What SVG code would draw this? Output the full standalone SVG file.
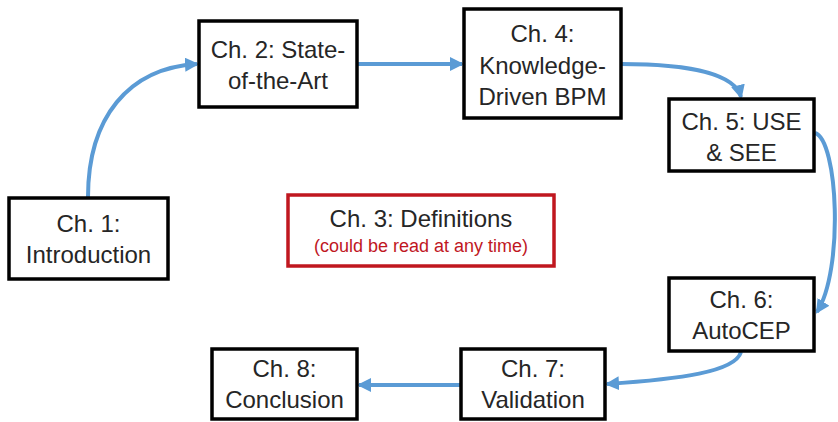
<svg xmlns="http://www.w3.org/2000/svg" width="838" height="422" viewBox="0 0 838 422">
  <style>
    .box { fill: #ffffff; stroke: #000000; stroke-width: 3.5; }
    .red { fill: #ffffff; stroke: #c0171f; stroke-width: 3.5; }
    .lbl { font-family: "Liberation Sans", Arial, sans-serif; font-size: 24px; fill: #262626; text-anchor: middle; }
    .note { font-family: "Liberation Sans", Arial, sans-serif; font-size: 18px; fill: #c0171f; text-anchor: middle; }
    .edge { fill: none; stroke: #5b9bd5; stroke-width: 4; marker-end: url(#head); }
  </style>
  <defs>
    <marker id="head" markerUnits="userSpaceOnUse" markerWidth="14" markerHeight="14" viewBox="0 0 14 14" refX="12" refY="7" orient="auto">
      <path d="M0,0 L14,7 L0,14 Z" fill="#5b9bd5"/>
    </marker>
  </defs>

  <g id="connectors">
    <path class="edge" d="M88,197 C88,118 128,68 197,64"/>
    <path class="edge" d="M357,64 L462,64"/>
    <path class="edge" d="M621,64 C690,64 735,74 741,97"/>
    <path class="edge" d="M815,133 C838,140 844,270 817,312"/>
    <path class="edge" d="M741,352 C735,372 680,379 607,384"/>
    <path class="edge" d="M461,385 L359,385"/>
  </g>

  <g id="ch1">
    <rect class="box" x="9" y="198" width="159" height="81"/>
    <text class="lbl" x="88.5" y="232">Ch. 1:</text>
    <text class="lbl" x="88.5" y="263">Introduction</text>
  </g>
  <g id="ch2">
    <rect class="box" x="199" y="21" width="158" height="86"/>
    <text class="lbl" x="278" y="58">Ch. 2: State-</text>
    <text class="lbl" x="278" y="89">of-the-Art</text>
  </g>
  <g id="ch3">
    <rect class="red" x="288" y="195" width="266" height="71"/>
    <text class="lbl" x="421" y="227">Ch. 3: Definitions</text>
    <text class="note" x="421" y="252">(could be read at any time)</text>
  </g>
  <g id="ch4">
    <rect class="box" x="464" y="9" width="157" height="109"/>
    <text class="lbl" x="542.5" y="42">Ch. 4:</text>
    <text class="lbl" x="542.5" y="74">Knowledge-</text>
    <text class="lbl" x="542.5" y="105">Driven BPM</text>
  </g>
  <g id="ch5">
    <rect class="box" x="669" y="99" width="145" height="72"/>
    <text class="lbl" x="741.5" y="130">Ch. 5: USE</text>
    <text class="lbl" x="741.5" y="161">&amp; SEE</text>
  </g>
  <g id="ch6">
    <rect class="box" x="669" y="278" width="145" height="73"/>
    <text class="lbl" x="741.5" y="308">Ch. 6:</text>
    <text class="lbl" x="741.5" y="339">AutoCEP</text>
  </g>
  <g id="ch7">
    <rect class="box" x="461" y="349" width="144" height="70"/>
    <text class="lbl" x="533" y="377">Ch. 7:</text>
    <text class="lbl" x="533" y="408">Validation</text>
  </g>
  <g id="ch8">
    <rect class="box" x="212" y="349" width="145" height="70"/>
    <text class="lbl" x="284.5" y="377">Ch. 8:</text>
    <text class="lbl" x="284.5" y="408">Conclusion</text>
  </g>
</svg>
